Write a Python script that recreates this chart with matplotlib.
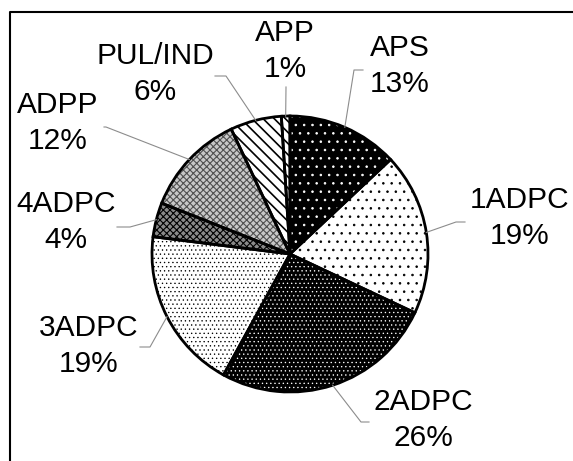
import numpy as np
import matplotlib.pyplot as plt

labels = ['APS', '1ADPC', '2ADPC', '3ADPC', '4ADPC', 'ADPP', 'PUL/IND', 'APP']
shares = [13, 19, 26, 19, 4, 12, 6, 1]

W, H = 573, 461
plt.rcParams['font.family'] = ['Liberation Sans', 'DejaVu Sans']
plt.rcParams['hatch.linewidth'] = 0.6

def py(y):
    # pixel row -> data y
    return H - y

# styling per slice
face = ['black', 'white', 'black', 'white', '#8a8a8a', '#c8c8c8', 'white', 'white']
hcol = ['white', 'black', 'white', 'black', 'black', '#505050', 'black', 'black']
hatches = ['..', '..', '....', '....', 'xxxxx', 'xxxxx', '\\\\\\', '\\\\\\']
hlw = [0.6, 0.6, 0.45, 0.45, 0.8, 0.8, 1.2, 1.2]

# label centres and leader elbows (pixels)
lab_xy = [(400, 66), (520, 218), (423, 420), (89, 346), (66, 222), (58, 123), (155, 74), (285, 51)]
elbow = [(354, 70), (456, 222), (361, 422), (150, 347), (130, 227), (106, 127), (226, 76), (286, 87)]
lead_end = [(363, 70), (465, 222), (369, 422), (140, 347), (117, 227), (104, 127), (215, 76), (286, 87)]

cx, cy, R = 290, 254, 138

fig = plt.figure(figsize=(W / 100, H / 100), dpi=100)
ax = fig.add_axes([0, 0, 1, 1])

wedges, _ = ax.pie(shares, startangle=90, counterclock=False, center=(cx, py(cy)),
                   radius=R, colors=face, wedgeprops=dict(linewidth=0))
for w, h, c, lw in zip(wedges, hatches, hcol, hlw):
    w.set_hatch(h)
    w.set_edgecolor(c)
    if hasattr(w, 'set_hatch_linewidth'):
        w.set_hatch_linewidth(lw)
ax.pie(shares, startangle=90, counterclock=False, center=(cx, py(cy)), radius=R,
       wedgeprops=dict(fill=False, edgecolor='black', linewidth=2.0))

ax.set_xlim(0, W)
ax.set_ylim(0, H)
ax.axis('off')

for w, lab, v, (tx, ty), (ex, ey), (lx, ly) in zip(wedges, labels, shares, lab_xy, elbow, lead_end):
    mid = np.deg2rad((w.theta1 + w.theta2) / 2)
    sx, sy = cx + R * np.cos(mid), py(cy) + R * np.sin(mid)
    ax.plot([sx, ex, lx], [sy, py(ey), py(ly)], color='#8c8c8c', lw=0.8)
    ax.text(tx, py(ty), f'{lab}\n{v}%', ha='center', va='center',
            fontsize=21.5, linespacing=1.4)

# frame
ax.plot([10, 10, W + 5], [-5, py(12), py(12)], color='black', lw=1.5, clip_on=False)

fig.savefig('out.png', dpi=100)
